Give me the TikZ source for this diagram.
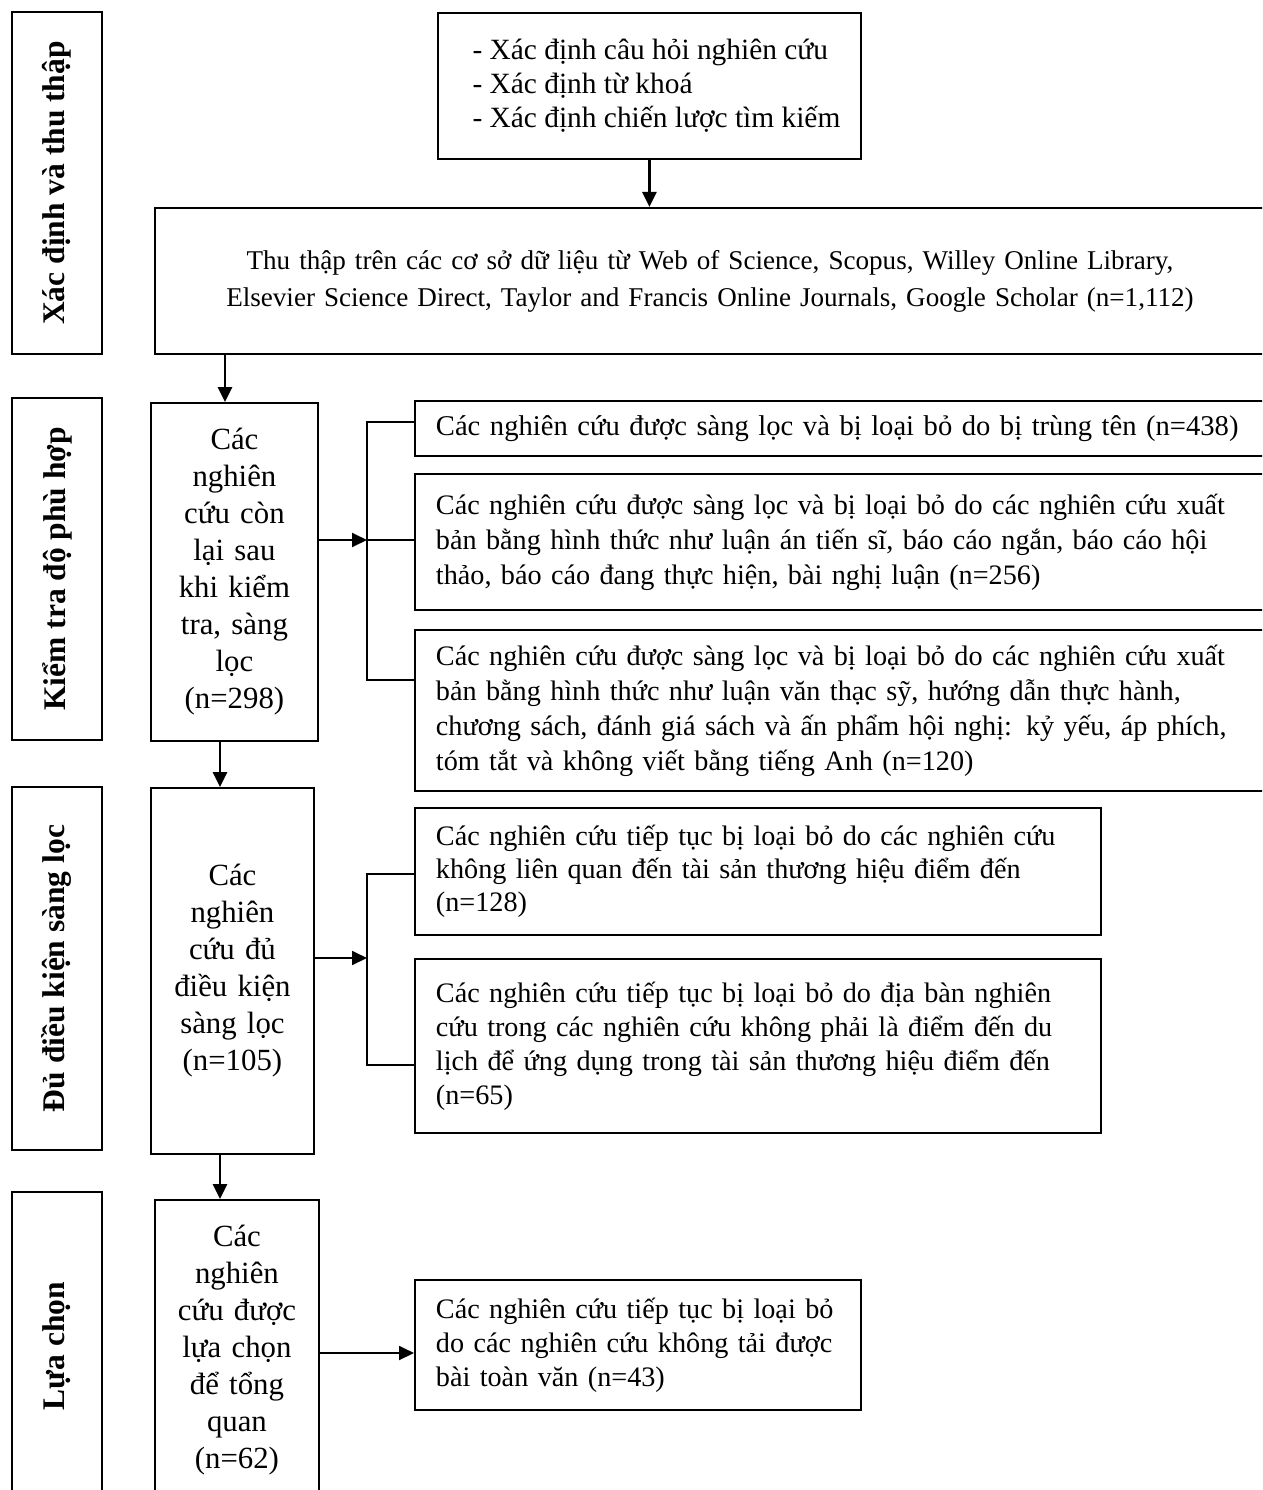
\documentclass[tikz,border=0pt]{standalone}
\usepackage{fontspec}
\setmainfont{Liberation Serif}
\usetikzlibrary{arrows.meta,calc}
\begin{document}
\begin{tikzpicture}[x=1pt,y=-1pt,
  lab/.style={draw, line width=2.8pt, rotate=90, minimum height=90pt, inner sep=0pt,
    font=\bfseries\fontsize{31.5}{36}\selectfont},
  box/.style={draw, line width=1.9pt, anchor=north west, inner ysep=0pt,
    font=\fontsize{28.2}{35}\selectfont},
  arr/.style={-{Triangle[length=15pt,width=14pt]}, line width=2.8pt},
  harr/.style={-{Triangle[length=15pt,width=14pt]}, line width=1.9pt},
  conn/.style={line width=1.9pt}]
\useasboundingbox (0,0) rectangle (1262,1490);
\clip (0,0) rectangle (1262,1490);
\fill[white] (0,0) rectangle (1262,1490);

% stage labels
\node[lab, minimum width=342pt] (l1) at (57,183) {Xác định và thu thập};
\node[lab, minimum width=342pt] (l2) at (57,569) {Kiểm tra độ phù hợp};
\node[lab, minimum width=363pt] (l3) at (57,968.5) {Đủ điều kiện sàng lọc};
\node[lab, minimum width=308pt] (l4) at (57,1346) {Lựa chọn};

% boxes
\node[box, minimum width=423pt, minimum height=146pt, align=left,
  font=\fontsize{29.4}{34}\selectfont] (top) at (437,12)
  {\hspace*{14pt}- Xác định câu hỏi nghiên cứu\\\hspace*{14pt}- Xác định từ khoá\\\hspace*{14pt}- Xác định chiến lược tìm kiếm};
\node[box, minimum width=1110pt, minimum height=146pt, inner xsep=10pt, text width=1090pt, align=center,
  font=\fontsize{27.1}{37}\selectfont] (big) at (154,207)
  {Thu thập trên các cơ sở dữ liệu từ Web of Science, Scopus, Willey Online Library,\\
   Elsevier Science Direct, Taylor and Francis Online Journals, Google Scholar (n=1,112)};

\node[box, minimum width=167pt, minimum height=338pt, inner xsep=3pt, text width=161pt, align=center,
  font=\fontsize{30.8}{37}\selectfont] (b1) at (150,402)
  {Các\\nghiên\\cứu còn\\lại sau\\khi kiểm\\tra, sàng\\lọc\\(n=298)};
\node[box, minimum width=163pt, minimum height=366pt, inner xsep=3pt, text width=157pt, align=center,
  font=\fontsize{30.8}{37}\selectfont] (b2) at (150,787)
  {Các\\nghiên\\cứu đủ\\điều kiện\\sàng lọc\\(n=105)};
\node[box, minimum width=164pt, minimum height=301pt, inner xsep=3pt, text width=158pt, align=center,
  font=\fontsize{30.8}{37}\selectfont] (c) at (154,1199)
  {Các\\nghiên\\cứu được\\lựa chọn\\để tổng\\quan\\(n=62)};

\node[box, minimum width=860pt, minimum height=55pt, inner xsep=21pt, text width=818pt, align=left,
  font=\fontsize{28.6}{35}\selectfont] (a1) at (414,400)
  {Các nghiên cứu được sàng lọc và bị loại bỏ do bị trùng tên (n=438)};
\node[box, minimum width=860pt, minimum height=136pt, inner xsep=21pt, text width=818pt, align=left] (a2) at (414,473)
  {Các nghiên cứu được sàng lọc và bị loại bỏ do các nghiên cứu xuất\\
   bản bằng hình thức như luận án tiến sĩ, báo cáo ngắn, báo cáo hội\\
   thảo, báo cáo đang thực hiện, bài nghị luận (n=256)};
\node[box, minimum width=860pt, minimum height=161pt, inner xsep=21pt, text width=818pt, align=left] (a3) at (414,629)
  {Các nghiên cứu được sàng lọc và bị loại bỏ do các nghiên cứu xuất\\
   bản bằng hình thức như luận văn thạc sỹ, hướng dẫn thực hành,\\
   chương sách, đánh giá sách và ấn phẩm hội nghị: kỷ yếu, áp phích,\\
   tóm tắt và không viết bằng tiếng Anh (n=120)};

\node[box, minimum width=686pt, minimum height=127pt, inner xsep=21pt, text width=644pt, align=left,
  font=\fontsize{28.2}{33}\selectfont] (bb1) at (414,807)
  {Các nghiên cứu tiếp tục bị loại bỏ do các nghiên cứu\\
   không liên quan đến tài sản thương hiệu điểm đến\\(n=128)};
\node[box, minimum width=686pt, minimum height=174pt, inner xsep=21pt, text width=644pt, align=left,
  font=\fontsize{28.2}{34}\selectfont] (bb2) at (414,958)
  {Các nghiên cứu tiếp tục bị loại bỏ do địa bàn nghiên\\
   cứu trong các nghiên cứu không phải là điểm đến du\\
   lịch để ứng dụng trong tài sản thương hiệu điểm đến\\(n=65)};

\node[box, minimum width=446pt, minimum height=130pt, inner xsep=21pt, text width=404pt, align=left,
  font=\fontsize{28.2}{34}\selectfont] (d) at (414,1279)
  {Các nghiên cứu tiếp tục bị loại bỏ\\do các nghiên cứu không tải được\\bài toàn văn (n=43)};

% connectors
\coordinate (p1) at (225,0);
\coordinate (p2) at (220,0);
\coordinate (k1) at (367,540);
\coordinate (k1t) at (367,422);
\coordinate (k1b) at (367,680);
\coordinate (k2) at (367,958);
\coordinate (k2t) at (367,874);
\coordinate (k2b) at (367,1065);
\coordinate (k3) at (0,1353);

\draw[arr] (top.south) -- (top.south |- big.north);
\draw[arr] (p1 |- big.south) -- (p1 |- b1.north);
\draw[harr] (b1.east |- k1) -- (k1);
\draw[conn] (a1.west |- k1t) -- (k1t) -- (k1b) -- (a3.west |- k1b);
\draw[conn] (k1) -- (a2.west |- k1);

\draw[arr] (p2 |- b1.south) -- (p2 |- b2.north);
\draw[harr] (b2.east |- k2) -- (k2);
\draw[conn] (bb1.west |- k2t) -- (k2t) -- (k2b) -- (bb2.west |- k2b);

\draw[arr] (p2 |- b2.south) -- (p2 |- c.north);
\draw[harr] (c.east |- k3) -- (d.west |- k3);
\end{tikzpicture}
\end{document}
